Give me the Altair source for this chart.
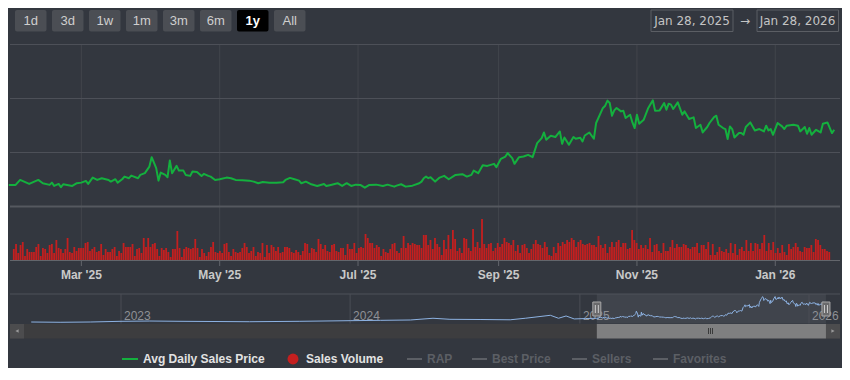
import altair as alt
import pandas as pd

# ---------------- data ----------------
price_dates = [
    "2025-01-28", "2025-01-31", "2025-02-02", "2025-02-06", "2025-02-10", "2025-02-12", "2025-02-15", "2025-02-16",
    "2025-02-17", "2025-02-19", "2025-02-20", "2025-02-21", "2025-02-25", "2025-02-27", "2025-03-01", "2025-03-03",
    "2025-03-04", "2025-03-06", "2025-03-08", "2025-03-10", "2025-03-13", "2025-03-14", "2025-03-16", "2025-03-17",
    "2025-03-19", "2025-03-20", "2025-03-22", "2025-03-23", "2025-03-26", "2025-03-27", "2025-03-29", "2025-03-30",
    "2025-03-31", "2025-04-01", "2025-04-03", "2025-04-04", "2025-04-05", "2025-04-07", "2025-04-08", "2025-04-09",
    "2025-04-10", "2025-04-12", "2025-04-13", "2025-04-15", "2025-04-16", "2025-04-18", "2025-04-19", "2025-04-21",
    "2025-04-23", "2025-04-24", "2025-04-26", "2025-04-27", "2025-04-29", "2025-05-01", "2025-05-04", "2025-05-06",
    "2025-05-08", "2025-05-11", "2025-05-14", "2025-05-16", "2025-05-18", "2025-05-20", "2025-05-23", "2025-05-26",
    "2025-05-29", "2025-05-30", "2025-06-01", "2025-06-03", "2025-06-05", "2025-06-06", "2025-06-08", "2025-06-10",
    "2025-06-13", "2025-06-16", "2025-06-17", "2025-06-19", "2025-06-22", "2025-06-24", "2025-06-26", "2025-06-28",
    "2025-06-30", "2025-07-02", "2025-07-04", "2025-07-06", "2025-07-09", "2025-07-12", "2025-07-14", "2025-07-17",
    "2025-07-18", "2025-07-20", "2025-07-22", "2025-07-25", "2025-07-28", "2025-07-29", "2025-07-30", "2025-07-31",
    "2025-08-01", "2025-08-02", "2025-08-04", "2025-08-06", "2025-08-08", "2025-08-10", "2025-08-13", "2025-08-16",
    "2025-08-18", "2025-08-20", "2025-08-21", "2025-08-23", "2025-08-25", "2025-08-27", "2025-08-30", "2025-08-31",
    "2025-09-02", "2025-09-04", "2025-09-05", "2025-09-07", "2025-09-08", "2025-09-10", "2025-09-12", "2025-09-14",
    "2025-09-16", "2025-09-18", "2025-09-20", "2025-09-21", "2025-09-22", "2025-09-24", "2025-09-26", "2025-09-28",
    "2025-09-29", "2025-09-30", "2025-10-02", "2025-10-04", "2025-10-05", "2025-10-07", "2025-10-08", "2025-10-09",
    "2025-10-11", "2025-10-13", "2025-10-14", "2025-10-17", "2025-10-18", "2025-10-19", "2025-10-20", "2025-10-21",
    "2025-10-22", "2025-10-23", "2025-10-25", "2025-10-26", "2025-10-27", "2025-10-29", "2025-10-30", "2025-10-31",
    "2025-11-01", "2025-11-02", "2025-11-04", "2025-11-06", "2025-11-08", "2025-11-09", "2025-11-11", "2025-11-13",
    "2025-11-14", "2025-11-15", "2025-11-16", "2025-11-17", "2025-11-19", "2025-11-21", "2025-11-22", "2025-11-24",
    "2025-11-26", "2025-11-27", "2025-11-29", "2025-11-30", "2025-12-02", "2025-12-03", "2025-12-05", "2025-12-06",
    "2025-12-07", "2025-12-09", "2025-12-10", "2025-12-11", "2025-12-12", "2025-12-13", "2025-12-14", "2025-12-16",
    "2025-12-17", "2025-12-18", "2025-12-19", "2025-12-21", "2025-12-23", "2025-12-25", "2025-12-27", "2025-12-28",
    "2025-12-29", "2025-12-30", "2025-12-31", "2026-01-02", "2026-01-04", "2026-01-05", "2026-01-06", "2026-01-09",
    "2026-01-11", "2026-01-12", "2026-01-14", "2026-01-15", "2026-01-16", "2026-01-17", "2026-01-19", "2026-01-21",
    "2026-01-22", "2026-01-24", "2026-01-26", "2026-01-27",
]
price_values = [
    400, 400, 492, 418, 492, 431, 400, 442, 381, 418, 357, 412, 381, 431, 442, 474,
    418, 535, 492, 524, 492, 461, 505, 442, 505, 554, 524, 572, 524, 585, 617, 678,
    739, 914, 710, 479, 628, 585, 543, 851, 617, 752, 665, 665, 585, 567, 647, 641,
    567, 604, 567, 554, 492, 505, 535, 524, 492, 487, 479, 461, 431, 455, 442, 442,
    450, 492, 530, 505, 479, 431, 461, 418, 381, 418, 381, 400, 431, 381, 431, 381,
    405, 400, 349, 400, 405, 381, 405, 368, 386, 412, 368, 386, 431, 461, 524, 554,
    524, 543, 461, 535, 567, 505, 585, 598, 554, 585, 665, 617, 765, 752, 790, 728,
    883, 925, 988, 896, 790, 914, 925, 957, 914, 1174, 1267, 1371, 1236, 1310, 1286, 1390,
    1161, 1278, 1143, 1286, 1254, 1273, 1204, 1315, 1371, 1254, 1546, 1825, 1867, 1960, 1917, 1681,
    1780, 1825, 1761, 1774, 1639, 1700, 1557, 1453, 1700, 1533, 1607, 1825, 1966, 1774, 1780, 1917,
    1793, 1904, 1886, 1806, 1929, 1700, 1761, 1620, 1650, 1453, 1514, 1371, 1472, 1546, 1657, 1681,
    1514, 1453, 1434, 1249, 1483, 1434, 1278, 1360, 1360, 1328, 1472, 1557, 1408, 1434, 1390, 1496,
    1408, 1434, 1328, 1546, 1483, 1434, 1496, 1514, 1496, 1390, 1472, 1347, 1453, 1328, 1421, 1371,
    1533, 1557, 1360, 1421,
]

# daily sales volume, 2025-01-28 .. 2026-01-27
volume_start = "2025-01-28"
volume_values = [
    11, 16, 7, 15, 18, 4, 11, 8, 8, 8, 13, 16, 4, 12, 11, 7, 15, 16, 7, 20,
    12, 11, 7, 11, 22, 8, 7, 13, 9, 12, 12, 12, 17, 18, 9, 11, 13, 8, 9, 16,
    5, 11, 8, 8, 11, 13, 4, 9, 7, 17, 13, 13, 13, 16, 4, 11, 12, 7, 22, 13,
    22, 13, 16, 17, 11, 4, 12, 10, 12, 8, 3, 11, 11, 29, 12, 3, 11, 13, 12, 11,
    12, 21, 12, 3, 11, 7, 4, 8, 13, 18, 8, 7, 9, 7, 16, 17, 8, 4, 11, 8,
    7, 8, 12, 17, 13, 7, 9, 13, 4, 8, 7, 17, 3, 15, 7, 15, 13, 9, 13, 7, 8, 13,
    13, 12, 8, 7, 10, 8, 5, 9, 17, 16, 7, 12, 11, 8, 21, 16, 11, 15, 9, 8, 15,
    16, 9, 8, 12, 12, 5, 16, 11, 11, 17, 7, 12, 13, 12, 26, 22, 17, 17, 12, 15,
    13, 4, 11, 8, 7, 11, 16, 17, 9, 7, 12, 24, 12, 17, 15, 17, 16, 15, 15, 12, 25,
    25, 15, 20, 11, 22, 16, 13, 5, 20, 11, 25, 11, 30, 21, 9, 12, 7, 22, 21, 12,
    9, 31, 13, 18, 12, 41, 16, 12, 16, 17, 9, 12, 17, 13, 16, 22, 18, 17, 15, 20,
    9, 15, 7, 15, 16, 12, 7, 11, 16, 20, 16, 15, 12, 18, 13, 5, 4, 13, 7, 17, 14, 18,
    16, 20, 18, 22, 20, 13, 18, 20, 16, 15, 16, 17, 15, 15, 13, 24, 15, 12, 16, 7,
    13, 18, 13, 18, 20, 13, 17, 17, 11, 12, 30, 20, 17, 11, 15, 12, 15, 11, 22, 8,
    15, 16, 9, 7, 17, 9, 9, 13, 20, 12, 16, 13, 13, 16, 15, 12, 11, 13, 13, 17, 7, 15,
    15, 11, 18, 5, 16, 5, 8, 13, 9, 8, 11, 7, 17, 7, 16, 5, 11, 13, 9, 20,
    9, 17, 9, 17, 16, 11, 17, 25, 9, 17, 10, 18, 7, 12, 7, 15, 8, 5, 16, 11,
    13, 17, 13, 9, 8, 13, 12, 12, 15, 8, 21, 20, 15, 11, 11, 9, 8,
]

# navigator history before the zoomed year
history_dates = [
    "2022-08-11", "2022-09-26", "2022-11-13", "2023-01-01", "2023-02-16", "2023-04-05", "2023-07-25",
    "2023-10-13", "2024-01-01", "2024-02-18", "2024-04-06", "2024-05-12", "2024-06-08", "2024-07-26",
    "2024-09-12", "2024-10-06", "2024-11-15", "2024-11-28", "2024-12-10", "2024-12-23", "2025-01-10",
]
history_values = [130, 110, 130, 180, 200, 180, 150, 180, 225, 250, 275, 400, 325, 310, 290, 400, 615, 400, 565, 350, 380]

month_ticks = ["2025-03-01", "2025-05-01", "2025-07-01", "2025-09-01", "2025-11-01", "2026-01-01"]
month_labels = ["Mar '25", "May '25", "Jul '25", "Sep '25", "Nov '25", "Jan '26"]
year_ticks = ["2023-01-01", "2024-01-01", "2025-01-01", "2026-01-01"]
year_labels = ["2023", "2024", "2025", "2026"]
price_grid = [0, 1000, 2000, 3000]
range_buttons = ["1d", "3d", "1w", "1m", "3m", "6m", "1y", "All"]
selected_button = "1y"
range_from = "Jan 28, 2025"
range_to = "Jan 28, 2026"
legend_active = ["Avg Daily Sales Price", "Sales Volume"]
legend_inactive = ["RAP", "Best Price", "Sellers", "Favorites"]

# ---------------- style ----------------
M = 8  # page margin
BG = "#33373f"
GREEN = "#14b03e"
RED = "#c41f1f"
GRID = "#4d5058"
VGRID = "#42454c"
FONT = "Liberation Sans"

one = pd.DataFrame({"k": [0]})


def dt(y, m, d):
    return alt.DateTime(year=y, month=m, date=d, utc=True)


main_x = alt.Scale(domain=[dt(2025, 1, 28), dt(2026, 1, 28)], range=[8.8 - M, 836.5 - M], nice=False)
nav_x = alt.Scale(domain=[dt(2023, 1, 1), dt(2026, 1, 1)], range=[121 - M, 809 - M], nice=False)
price_y = alt.Scale(domain=[0, 3000], range=[206.5 - M, 44.5 - M], nice=False, zero=False)
vol_y = alt.Scale(domain=[0, 54], range=[260 - M, 206 - M], nice=False)
nav_y = alt.Scale(domain=[0, 2000], range=[323.8 - M, 296.1 - M], nice=False, zero=False)


def box(x1, y1, x2, y2, **kw):
    return alt.Chart(one).mark_rect(**kw).encode(
        x=alt.value(x1 - M), x2=alt.value(x2 - M), y=alt.value(y1 - M), y2=alt.value(y2 - M))


def txt(x, y, s, **kw):
    kw.setdefault("font", FONT)
    kw.setdefault("baseline", "middle")
    return alt.Chart(one).mark_text(text=s, **kw).encode(x=alt.value(x - M), y=alt.value(y - M))


def hline(x1, x2, y, color, w=1):
    return alt.Chart(one).mark_rule(color=color, strokeWidth=w).encode(
        x=alt.value(x1 - M), x2=alt.value(x2 - M), y=alt.value(y - M))


def vline(x, y1, y2, color, w=1):
    return alt.Chart(one).mark_rule(color=color, strokeWidth=w).encode(
        x=alt.value(x - M), y=alt.value(y1 - M), y2=alt.value(y2 - M))


layers = []

# ---- range selector buttons ----
bx = 15
for b in range_buttons:
    sel = b == selected_button
    layers.append(box(bx, 10, bx + 31.5, 31.5, color="#000000" if sel else "#4b4e54", cornerRadius=2))
    layers.append(txt(bx + 15.75, 21, b, align="center", fontSize=13,
                      fontWeight="bold" if sel else "normal", color="#ffffff" if sel else "#cfcfcf"))
    bx += 37

# ---- date range inputs ----
layers.append(box(651, 10, 733, 31.5, fill=BG, stroke="#5b5e64", strokeWidth=1))
layers.append(box(757, 10, 838.5, 31.5, fill=BG, stroke="#5b5e64", strokeWidth=1))
layers.append(txt(692, 21, range_from, align="center", fontSize=12, font="DejaVu Sans", color="#c4c4c4"))
layers.append(txt(745, 21, "\u2192", align="center", fontSize=12, font="DejaVu Sans", color="#c4c4c4"))
layers.append(txt(797.5, 21, range_to, align="center", fontSize=12, font="DejaVu Sans", color="#c4c4c4"))

# ---- main grid ----
month_df = pd.DataFrame({"date": month_ticks, "label": month_labels})
layers.append(alt.Chart(month_df).mark_rule(color=VGRID, strokeWidth=1).encode(
    x=alt.X("date:T", scale=main_x, axis=None), y=alt.value(44.5 - M), y2=alt.value(260 - M)))
grid_df = pd.DataFrame({"p": price_grid[1:]})
layers.append(alt.Chart(grid_df).mark_rule(color=GRID, strokeWidth=1).encode(
    y=alt.Y("p:Q", scale=price_y, axis=None), x=alt.value(10 - M), x2=alt.value(840 - M)))
layers.append(hline(10, 840, 206.5, "#55585f", 2))

# ---- volume bars ----
vol_df = pd.DataFrame({
    "date": pd.date_range(volume_start, periods=len(volume_values), freq="D").strftime("%Y-%m-%d"),
    "volume": volume_values,
})
layers.append(alt.Chart(vol_df).mark_bar(color=RED, size=1.8).encode(
    x=alt.X("date:T", scale=main_x, axis=None),
    y=alt.Y("volume:Q", scale=vol_y, axis=None)))

# ---- price line ----
price_df = pd.DataFrame({"date": price_dates, "price": price_values})
layers.append(alt.Chart(price_df).mark_line(color=GREEN, strokeWidth=2, strokeJoin="round").encode(
    x=alt.X("date:T", scale=main_x, axis=None),
    y=alt.Y("price:Q", scale=price_y, axis=None)))

# ---- x axis ----
layers.append(hline(10, 840, 260.5, "#63666c", 1))
layers.append(alt.Chart(month_df).mark_rule(color="#63666c", strokeWidth=1).encode(
    x=alt.X("date:T", scale=main_x, axis=None), y=alt.value(260 - M), y2=alt.value(266 - M)))
layers.append(alt.Chart(month_df).mark_text(font=FONT, fontSize=12, fontWeight="bold", color="#c9c9c9",
                                            baseline="middle", align="center").encode(
    x=alt.X("date:T", scale=main_x, axis=None), y=alt.value(275 - M), text="label:N"))

# ---- navigator ----
sel_df = pd.DataFrame({"start": [price_dates[0]], "end": ["2026-01-28"]})
layers.append(alt.Chart(sel_df).mark_rect(color="#40444c").encode(
    x=alt.X("start:T", scale=nav_x, axis=None), x2="end:T", y=alt.value(294 - M), y2=alt.value(323.5 - M)))
layers.append(hline(10, 840, 294, "#4f525a", 1))
year_df = pd.DataFrame({"date": year_ticks, "label": year_labels})
layers.append(alt.Chart(year_df).mark_rule(color="#4a4d55", strokeWidth=1).encode(
    x=alt.X("date:T", scale=nav_x, axis=None), y=alt.value(294 - M), y2=alt.value(323.5 - M)))
layers.append(alt.Chart(year_df).mark_text(font=FONT, fontSize=12, color="#8e9095", align="left",
                                           baseline="middle", dx=3).encode(
    x=alt.X("date:T", scale=nav_x, axis=None), y=alt.value(316 - M), text="label:N"))
nav_df = pd.DataFrame({"date": history_dates + price_dates, "price": history_values + price_values})
layers.append(alt.Chart(nav_df).mark_line(color="#8db2e2", strokeWidth=1).encode(
    x=alt.X("date:T", scale=nav_x, axis=None),
    y=alt.Y("price:Q", scale=nav_y, axis=None)))

# ---- scrollbar ----
layers.append(box(10, 324, 840, 338.5, color="#3d3d3f"))
layers.append(box(10, 324, 24, 338.5, color="#4c4c4e"))
layers.append(box(826, 324, 840, 338.5, color="#4c4c4e"))
layers.append(alt.Chart(sel_df).mark_rect(color="#7f7f80").encode(
    x=alt.X("start:T", scale=nav_x, axis=None), x2="end:T", y=alt.value(324 - M), y2=alt.value(338.5 - M)))
layers.append(alt.Chart(one).mark_point(shape="triangle-left", filled=True, size=14, color="#bbbbbb").encode(
    x=alt.value(17 - M), y=alt.value(331 - M)))
layers.append(alt.Chart(one).mark_point(shape="triangle-right", filled=True, size=14, color="#bbbbbb").encode(
    x=alt.value(833 - M), y=alt.value(331 - M)))
for gx in (708.5, 710.5, 712.5):
    layers.append(vline(gx, 328, 334, "#3a3a3a"))

# navigator handles
handle_df = pd.DataFrame({"date": [price_dates[0], "2026-01-28"]})
layers.append(alt.Chart(handle_df).mark_rect(color="#6a6a6c", stroke="#a8a8a8", strokeWidth=1,
                                             xOffset=-4, x2Offset=4).encode(
    x=alt.X("date:T", scale=nav_x, axis=None), x2="date:T",
    y=alt.value(302 - M), y2=alt.value(316 - M)))
for off in (-1.5, 1.5):
    layers.append(alt.Chart(handle_df).mark_rule(color="#cfcfcf", strokeWidth=1, xOffset=off).encode(
        x=alt.X("date:T", scale=nav_x, axis=None), y=alt.value(305 - M), y2=alt.value(313 - M)))

# ---- legend ----
LY = 359
layers.append(hline(122, 138, LY, GREEN, 2))
layers.append(txt(143, LY, legend_active[0], fontSize=12, fontWeight="bold", color="#e2e2e2", align="left"))
layers.append(alt.Chart(one).mark_point(shape="circle", filled=True, size=120, color=RED, opacity=1).encode(
    x=alt.value(293 - M), y=alt.value(LY - M)))
layers.append(txt(306, LY, legend_active[1], fontSize=12, fontWeight="bold", color="#e2e2e2", align="left"))
for lx, name in zip((407, 472, 572, 653), legend_inactive):
    layers.append(hline(lx, lx + 15, LY, "#5c5f65", 2))
    layers.append(txt(lx + 20, LY, name, fontSize=12, fontWeight="bold", color="#5c5f65", align="left"))

chart = alt.layer(*layers).resolve_scale(x="independent", y="independent").properties(
    width=834, height=360, background=BG, padding=0,
    autosize=alt.AutoSizeParams(type="none"),
).configure_view(stroke=None)

chart.save("out.html", embed_options={"renderer": "svg", "actions": False})
